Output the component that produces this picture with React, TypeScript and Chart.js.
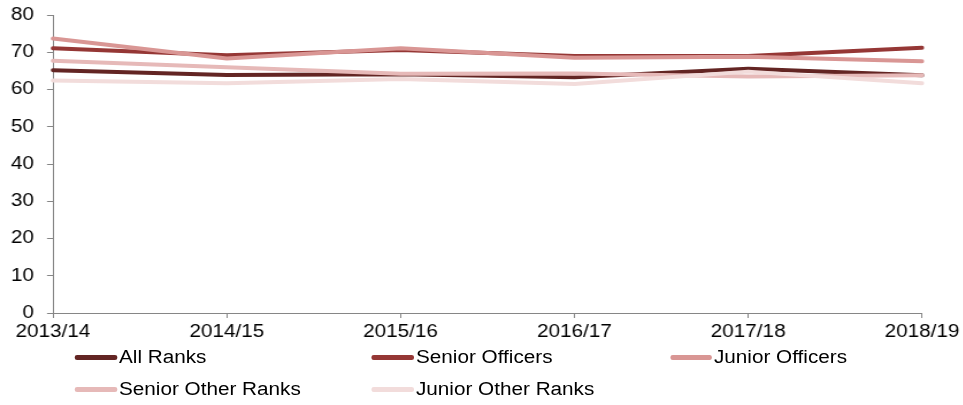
import React, { useEffect, useRef } from "react";
import { Chart, registerables } from "chart.js";

Chart.register(...registerables);

const categories = ["2013/14", "2014/15", "2015/16", "2016/17", "2017/18", "2018/19"];
const allRanks = [65.2, 63.9, 64.1, 63.3, 65.6, 63.8];
const seniorOfficers = [71.1, 69.2, 70.6, 69.0, 69.0, 71.2];
const juniorOfficers = [73.7, 68.3, 71.1, 68.5, 68.8, 67.6];
const seniorOtherRanks = [67.7, 66.0, 64.2, 64.3, 63.5, 63.8];
const juniorOtherRanks = [62.4, 61.7, 62.8, 61.5, 64.8, 61.7];
const seriesNames = ["All Ranks", "Senior Officers", "Junior Officers", "Senior Other Ranks", "Junior Other Ranks"];
const seriesColors = ["#632523", "#953735", "#D99694", "#E6B9B8", "#F2DCDB"];
const yTicks = [0, 10, 20, 30, 40, 50, 60, 70, 80];

const FONT = "'Liberation Sans', Arial, sans-serif";
const SX = 1.15;
const W = Math.round(963 / SX);
const px = (v: number) => v / SX;

export default function App() {
  const ref = useRef<HTMLCanvasElement | null>(null);
  useEffect(() => {
    document.body.style.margin = "0";
    const values = [allRanks, seniorOfficers, juniorOfficers, seniorOtherRanks, juniorOtherRanks];
    const chart = new Chart(ref.current as HTMLCanvasElement, {
      type: "line",
      data: {
        labels: categories,
        datasets: values.map((v, i) => ({
          label: seriesNames[i],
          data: v,
          borderColor: seriesColors[i],
          backgroundColor: seriesColors[i],
          borderWidth: 4,
          pointRadius: 0,
          tension: 0,
          borderCapStyle: "round" as const,
          borderJoinStyle: "round" as const,
          order: values.length - 1 - i,
        })),
      },
      options: {
        animation: false,
        responsive: false,
        maintainAspectRatio: false,
        layout: { padding: { top: 15, right: W - px(922), left: 0, bottom: 0 } },
        plugins: { legend: { display: false }, tooltip: { enabled: false } },
        scales: {
          x: {
            offset: false,
            grid: { drawOnChartArea: false, color: "#868686", tickLength: 5 },
            border: { color: "#868686", width: 1 },
            ticks: { color: "#000", font: { family: FONT, size: 18 }, padding: 3, maxRotation: 0, autoSkip: false },
            afterFit: (s: any) => { s.height = 27; s.paddingLeft = 0; s.paddingRight = 0; },
          },
          y: {
            min: 0,
            max: 80,
            afterBuildTicks: (s: any) => { s.ticks = yTicks.map((v) => ({ value: v })); },
            grid: { drawOnChartArea: false, color: "#868686", tickLength: px(6) },
            border: { color: "#868686", width: 1 },
            ticks: { color: "#000", font: { family: FONT, size: 18 }, padding: px(13) },
            afterFit: (s: any) => { s.width = px(53); s.paddingTop = 0; s.paddingBottom = 0; },
          },
        },
      },
    });
    return () => chart.destroy();
  }, []);

  const legendPos = [
    { x: 75, y: 357 },
    { x: 372, y: 357 },
    { x: 670, y: 357 },
    { x: 75, y: 389 },
    { x: 372, y: 389 },
  ];

  return (
    <div style={{ position: "relative", width: 963, height: 405, background: "#fff", overflow: "hidden" }}>
      <div style={{ position: "absolute", left: 0, top: 0, width: W, height: 405, transform: `scaleX(${SX})`, transformOrigin: "0 0" }}>
        <canvas ref={ref} width={W} height={340} style={{ position: "absolute", left: 0, top: 0, width: W, height: 340 }} />
        {seriesNames.map((name, i) => (
          <div
            key={name}
            style={{
              position: "absolute",
              left: px(legendPos[i].x),
              top: legendPos[i].y - 12,
              height: 24,
              display: "flex",
              alignItems: "center",
              fontFamily: FONT,
              fontSize: 18,
              color: "#000",
              whiteSpace: "nowrap",
            }}
          >
            <span style={{ display: "inline-block", width: px(42), height: 5, borderRadius: 2, background: seriesColors[i], marginRight: px(2) }} />
            <span>{name}</span>
          </div>
        ))}
      </div>
    </div>
  );
}
